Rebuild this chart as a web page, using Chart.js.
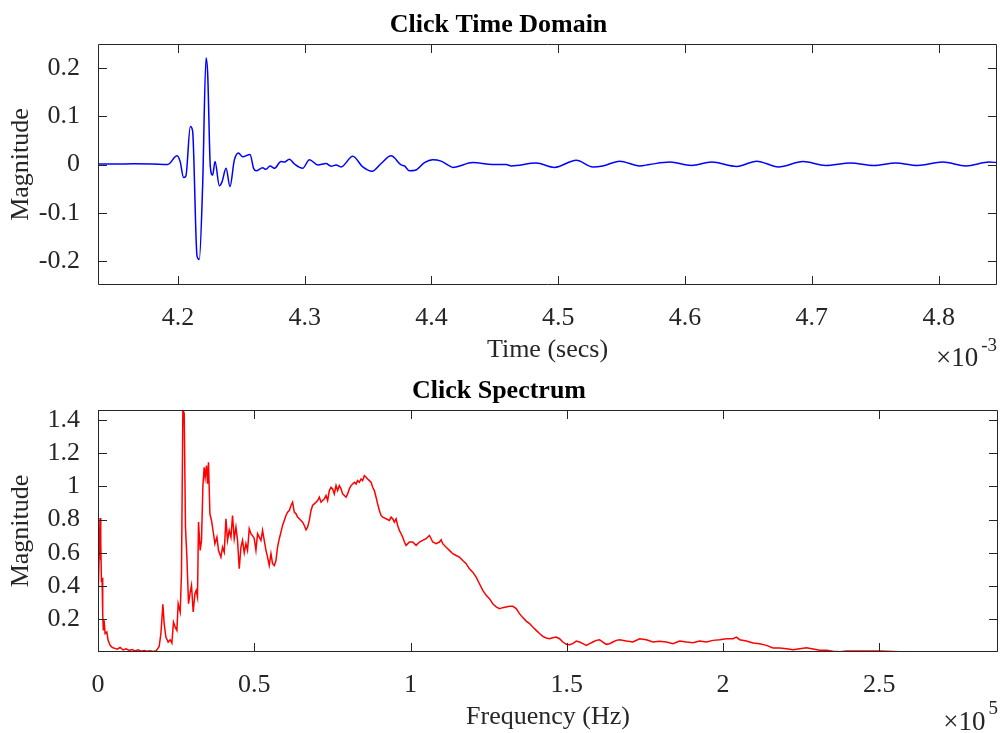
<!DOCTYPE html>
<html>
<head>
<meta charset="utf-8">
<script src="https://cdn.jsdelivr.net/npm/chart.js@4.4.1/dist/chart.umd.min.js"></script>
<style>
  html, body { margin: 0; padding: 0; background: #ffffff; }
  #wrap { position: relative; width: 1000px; height: 733px; overflow: hidden; background: #fff; }
  canvas { position: absolute; left: 0; }
</style>
</head>
<body>
<div id="wrap">
  <canvas id="c1" width="1000" height="366" style="top:0px"></canvas>
  <canvas id="c2" width="1000" height="367" style="top:366px"></canvas>
</div>
<script>
// ---------- Data: click time domain (time in ms, i.e. x10^-3 s) ----------
const timeMs = [
  4.137, 4.150, 4.165, 4.180, 4.192, 4.1993, 4.2018, 4.2045, 4.2063, 4.2098,
  4.2116, 4.2151, 4.2169, 4.2195, 4.2222, 4.2235, 4.2256, 4.2274, 4.2293, 4.2327,
  4.2348, 4.2380, 4.2411, 4.2445, 4.2477, 4.2511, 4.2569, 4.2597, 4.2617, 4.2668,
  4.2695, 4.2727, 4.2761, 4.2813, 4.2840, 4.2879, 4.2919, 4.2984, 4.3037, 4.3103,
  4.3169, 4.3208, 4.3248, 4.3287, 4.3379, 4.3458, 4.3532, 4.3603, 4.3682, 4.3761,
  4.3787, 4.3826, 4.3871, 4.3945, 4.4010, 4.4076, 4.4142, 4.4168, 4.4326, 4.4480,
  4.4590, 4.4629, 4.4826, 4.4971, 4.5142, 4.5273, 4.5350, 4.5484, 4.5642, 4.5719,
  4.5880, 4.6050, 4.6209, 4.6407, 4.6565, 4.6737, 4.6930, 4.7107, 4.7305, 4.7489,
  4.7661, 4.7833, 4.8031, 4.8216, 4.8400, 4.8460
];
const clickAmp = [
  0.001, 0.001, 0.0015, 0.001, 0.000, 0.018, 0.006, -0.027, -0.024, 0.079,
  0.070, -0.190, -0.197, -0.046, 0.221, 0.188, -0.005, -0.022, 0.006, -0.044,
  -0.036, -0.008, -0.046, 0.009, 0.024, 0.016, 0.021, -0.008, -0.013, -0.007,
  -0.010, -0.003, -0.008, 0.006, 0.005, 0.011, 0.001, -0.008, 0.010, -0.001,
  0.002, -0.0035, -0.001, -0.005, 0.017, -0.005, -0.014, 0.002, 0.018, -0.001,
  -0.003, -0.013, -0.012, 0.004, 0.010, 0.007, -0.003, -0.006, 0.004, 0.000,
  0.000, -0.003, 0.003, -0.006, 0.009, -0.005, -0.003, 0.007, -0.003, 0.000,
  0.005, -0.002, 0.005, -0.004, 0.007, -0.005, 0.006, -0.002, 0.003, -0.002,
  0.003, -0.002, 0.005, -0.003, 0.005, 0.004
];
const timeTicks = [4.2, 4.3, 4.4, 4.5, 4.6, 4.7, 4.8];
const ampTicks = [-0.2, -0.1, 0, 0.1, 0.2];

// ---------- Data: click spectrum (frequency in x10^5 Hz) ----------
const freqE5 = [
  0.0000, 0.0065, 0.0080, 0.0095, 0.0110, 0.0130, 0.0150, 0.0170, 0.0195, 0.0227, 0.0282,
  0.0324, 0.0388, 0.0461, 0.0538, 0.0612, 0.0708, 0.0804, 0.0900, 0.0996, 0.1092,
  0.1188, 0.1284, 0.1380, 0.1476, 0.1573, 0.1669, 0.1765, 0.1861, 0.1957, 0.2012,
  0.2076, 0.2117, 0.2172, 0.2245, 0.2309, 0.2364, 0.2415, 0.2470, 0.2524, 0.2566,
  0.2630, 0.2671, 0.2716, 0.2758, 0.2799, 0.2844, 0.2896, 0.2950, 0.2992, 0.3046,
  0.3101, 0.3142, 0.3184, 0.3216, 0.3270, 0.3312, 0.3357, 0.3398, 0.3430, 0.3472,
  0.3504, 0.3536, 0.3581, 0.3632, 0.3696, 0.3741, 0.3805, 0.3856, 0.3933, 0.3985,
  0.4039, 0.4094, 0.4145, 0.4199, 0.4254, 0.4305, 0.4359, 0.4414, 0.4465, 0.4520,
  0.4574, 0.4625, 0.4680, 0.4734, 0.4785, 0.4840, 0.4894, 0.4978, 0.5000, 0.5054,
  0.5106, 0.5160, 0.5215, 0.5266, 0.5320, 0.5375, 0.5426, 0.5480, 0.5535, 0.5586,
  0.5641, 0.5695, 0.5746, 0.5801, 0.5855, 0.5906, 0.5961, 0.6015, 0.6067, 0.6121,
  0.6176, 0.6227, 0.6281, 0.6336, 0.6387, 0.6441, 0.6496, 0.6547, 0.6602, 0.6656,
  0.6707, 0.6762, 0.6816, 0.6867, 0.6922, 0.6976, 0.7028, 0.7082, 0.7137, 0.7188,
  0.7242, 0.7297, 0.7348, 0.7402, 0.7457, 0.7508, 0.7562, 0.7617, 0.7668, 0.7723,
  0.7777, 0.7828, 0.7883, 0.7937, 0.7988, 0.8043, 0.8097, 0.8149, 0.8203, 0.8258,
  0.8309, 0.8363, 0.8418, 0.8469, 0.8523, 0.8578, 0.8629, 0.8684, 0.8738, 0.8789,
  0.8844, 0.8898, 0.8949, 0.9004, 0.9058, 0.9110, 0.9218, 0.9324, 0.9379, 0.9430,
  0.9484, 0.9539, 0.9590, 0.9644, 0.9699, 0.9750, 0.9805, 0.9859, 0.9965, 1.0070,
  1.0179, 1.0285, 1.0391, 1.0500, 1.0605, 1.0660, 1.0711, 1.0820, 1.0926, 1.0980,
  1.1031, 1.1140, 1.1246, 1.1352, 1.1461, 1.1566, 1.1672, 1.1781, 1.1887, 1.1992,
  1.2101, 1.2207, 1.2313, 1.2422, 1.2527, 1.2633, 1.2742, 1.2848, 1.2953, 1.3062,
  1.3168, 1.3274, 1.3383, 1.3488, 1.3594, 1.3703, 1.3809, 1.3914, 1.4023, 1.4129,
  1.4234, 1.4343, 1.4449, 1.4555, 1.4664, 1.4769, 1.4875, 1.4984, 1.5090, 1.5195,
  1.5304, 1.5410, 1.5516, 1.5625, 1.5730, 1.5836, 1.5945, 1.6051, 1.6156, 1.6265,
  1.6371, 1.6477, 1.6586, 1.6691, 1.6906, 1.7117, 1.7332, 1.7547, 1.7758, 1.7973,
  1.8187, 1.8398, 1.8613, 1.8828, 1.9039, 1.9254, 1.9468, 1.9680, 1.9894, 2.0109,
  2.0320, 2.0429, 2.0535, 2.0749, 2.0961, 2.1175, 2.1390, 2.1601, 2.1816, 2.2031,
  2.2242, 2.2457, 2.2671, 2.2883, 2.3097, 2.3312, 2.3523, 2.3738, 2.3952, 2.4593,
  2.5019, 2.5660, 2.6727, 2.7796, 2.8800
];
const specMag = [
  0.300, 0.810, 0.555, 0.675, 0.424, 0.450, 0.234, 0.133, 0.194, 0.114, 0.123,
  0.073, 0.043, 0.030, 0.025, 0.020, 0.030, 0.015, 0.022, 0.012, 0.018,
  0.010, 0.016, 0.008, 0.012, 0.007, 0.010, 0.006, 0.010, 0.036, 0.113,
  0.290, 0.174, 0.093, 0.063, 0.077, 0.057, 0.183, 0.153, 0.133, 0.294,
  0.244, 0.474, 1.460, 1.440, 0.755, 0.574, 0.294, 0.364, 0.404, 0.244,
  0.354, 0.374, 0.334, 0.785, 0.615, 0.675, 1.005, 1.115, 1.055, 1.126,
  1.016, 1.145, 0.835, 0.795, 0.715, 0.655, 0.695, 0.615, 0.574, 0.634,
  0.604, 0.805, 0.675, 0.735, 0.695, 0.825, 0.685, 0.755, 0.675, 0.504,
  0.635, 0.675, 0.600, 0.655, 0.615, 0.745, 0.715, 0.695, 0.685, 0.615,
  0.715, 0.695, 0.675, 0.735, 0.675, 0.615, 0.574, 0.524, 0.595, 0.535,
  0.524, 0.554, 0.634, 0.685, 0.725, 0.765, 0.795, 0.825, 0.845, 0.855,
  0.885, 0.905, 0.845, 0.835, 0.815, 0.805, 0.795, 0.785, 0.765, 0.739,
  0.755, 0.795, 0.855, 0.885, 0.895, 0.905, 0.915, 0.935, 0.905, 0.915,
  0.925, 0.945, 0.915, 0.975, 0.995, 0.985, 0.955, 1.005, 0.975, 1.005,
  0.985, 0.955, 0.945, 0.935, 0.955, 0.985, 1.005, 1.015, 1.025, 1.015,
  1.035, 1.025, 1.045, 1.035, 1.065, 1.055, 1.045, 1.035, 1.025, 0.995,
  0.975, 0.935, 0.895, 0.855, 0.825, 0.815, 0.805, 0.795, 0.815, 0.805,
  0.785, 0.805, 0.765, 0.735, 0.715, 0.695, 0.665, 0.645, 0.665, 0.665,
  0.645, 0.665, 0.675, 0.685, 0.705, 0.685, 0.665, 0.655, 0.665, 0.679,
  0.655, 0.634, 0.615, 0.595, 0.584, 0.574, 0.554, 0.535, 0.504, 0.484,
  0.454, 0.414, 0.374, 0.344, 0.324, 0.294, 0.274, 0.264, 0.270, 0.274,
  0.278, 0.278, 0.264, 0.234, 0.210, 0.189, 0.174, 0.153, 0.133, 0.114,
  0.097, 0.087, 0.083, 0.089, 0.093, 0.083, 0.063, 0.049, 0.047, 0.053,
  0.069, 0.063, 0.053, 0.043, 0.053, 0.063, 0.073, 0.077, 0.063, 0.049,
  0.053, 0.063, 0.073, 0.077, 0.069, 0.063, 0.083, 0.077, 0.063, 0.067,
  0.063, 0.053, 0.069, 0.063, 0.059, 0.069, 0.063, 0.073, 0.077, 0.083,
  0.083, 0.093, 0.077, 0.069, 0.057, 0.053, 0.043, 0.027, 0.027, 0.023,
  0.017, 0.023, 0.029, 0.021, 0.013, 0.013, 0.007, 0.005, 0.009, 0.009,
  0.009, 0.005, 0.005, 0.004, 0.004
];
const freqTicks = [0, 0.5, 1, 1.5, 2, 2.5];
const magTicks = [0.2, 0.4, 0.6, 0.8, 1, 1.2, 1.4];

// ---------- Shared styling ----------
const FONT = '"Liberation Serif", "Times New Roman", serif';
const AX = '#262626';
const fmt = v => String(Number(v.toFixed(2)));

function boxPlugin(expBase, expSup, supOff, baseOff) {
  return {
    id: 'matlabBox',
    afterDraw(chart) {
      const { ctx, chartArea: a, scales: { x, y } } = chart;
      const TL = 9;
      ctx.save();
      ctx.strokeStyle = AX;
      ctx.lineWidth = 1;
      ctx.beginPath();
      ctx.rect(Math.round(a.left) + 0.5, Math.round(a.top) + 0.5,
               Math.round(a.right) - Math.round(a.left) - 1, Math.round(a.bottom) - Math.round(a.top) - 1);
      x.ticks.forEach(t => {
        const px = Math.round(x.getPixelForValue(t.value)) + 0.5;
        ctx.moveTo(px, a.bottom); ctx.lineTo(px, a.bottom - TL);
        ctx.moveTo(px, a.top); ctx.lineTo(px, a.top + TL);
      });
      y.ticks.forEach(t => {
        const py = Math.round(y.getPixelForValue(t.value)) + 0.5;
        ctx.moveTo(a.left, py); ctx.lineTo(a.left + TL, py);
        ctx.moveTo(a.right, py); ctx.lineTo(a.right - TL, py);
      });
      ctx.stroke();
      // exponent label (x10^n)
      ctx.fillStyle = AX;
      ctx.textBaseline = 'alphabetic';
      ctx.font = '19px ' + FONT;
      const supW = ctx.measureText(expSup).width;
      const supX = a.right - supW;
      ctx.textAlign = 'left';
      ctx.fillText(expSup, supX, a.bottom + supOff);
      ctx.font = '27px ' + FONT;
      ctx.textAlign = 'right';
      ctx.fillText(expBase, supX - 3, a.bottom + baseOff);
      ctx.restore();
    }
  };
}

function makeOptions(cfg) {
  return {
    responsive: false,
    animation: false,
    devicePixelRatio: 1,
    layout: { padding: { left: 0, right: cfg.padRight, top: 0, bottom: 0 } },
    plugins: {
      legend: { display: false },
      tooltip: { enabled: false },
      title: {
        display: true, text: cfg.title, color: '#000',
        font: { family: FONT, size: 26, weight: 'bold', lineHeight: 1.2 },
        padding: { top: 10, bottom: 2.8 }
      }
    },
    scales: {
      x: {
        type: 'linear', bounds: 'data',
        min: cfg.xmin, max: cfg.xmax,
        grid: { display: false }, border: { display: false },
        afterFit: s => { s.height = 81; },
        afterBuildTicks: s => { s.ticks = cfg.xTicks.map(v => ({ value: v })); },
        ticks: { color: AX, padding: 10, maxRotation: 0, autoSkip: false,
                 font: { family: FONT, size: 26, lineHeight: 1.2 }, callback: v => fmt(v) },
        title: { display: true, text: cfg.xTitle, color: AX, padding: { top: 0, bottom: 0 },
                 font: { family: FONT, size: 26, lineHeight: 1.2 } }
      },
      y: {
        type: 'linear', bounds: 'data',
        min: cfg.ymin, max: cfg.ymax,
        grid: { display: false }, border: { display: false },
        afterFit: s => { s.width = 98; },
        afterBuildTicks: s => { s.ticks = cfg.yTicks.map(v => ({ value: v })); },
        ticks: { color: AX, padding: 10, autoSkip: false,
                 font: { family: FONT, size: 26, lineHeight: 1.2 }, callback: v => fmt(v) },
        title: { display: true, text: 'Magnitude', color: AX, padding: { top: 6, bottom: 0 },
                 font: { family: FONT, size: 26, lineHeight: 1.2 } }
      }
    }
  };
}

new Chart(document.getElementById('c1'), {
  type: 'line',
  data: {
    datasets: [{
      data: timeMs.map((t, i) => ({ x: t, y: clickAmp[i] })),
      borderColor: '#0000ff', borderWidth: 1.5, pointRadius: 0,
      cubicInterpolationMode: 'monotone', fill: false
    }]
  },
  options: makeOptions({
    title: 'Click Time Domain', xTitle: 'Time (secs)',
    xmin: 4.137, xmax: 4.846, ymin: -0.25, ymax: 0.25,
    xTicks: timeTicks, yTicks: ampTicks, padRight: 3
  }),
  plugins: [boxPlugin('\u00d710', '-3', 66, 81)]
});

new Chart(document.getElementById('c2'), {
  type: 'line',
  data: {
    datasets: [{
      data: freqE5.map((f, i) => ({ x: f, y: specMag[i] })),
      borderColor: '#ff0000', borderWidth: 1.5, pointRadius: 0,
      tension: 0, fill: false
    }]
  },
  options: makeOptions({
    title: 'Click Spectrum', xTitle: 'Frequency (Hz)',
    xmin: 0, xmax: 2.88, ymin: 0.003, ymax: 1.46,
    xTicks: freqTicks, yTicks: magTicks, padRight: 2
  }),
  plugins: [boxPlugin('\u00d710', '5', 62, 78)]
});
</script>
</body>
</html>
